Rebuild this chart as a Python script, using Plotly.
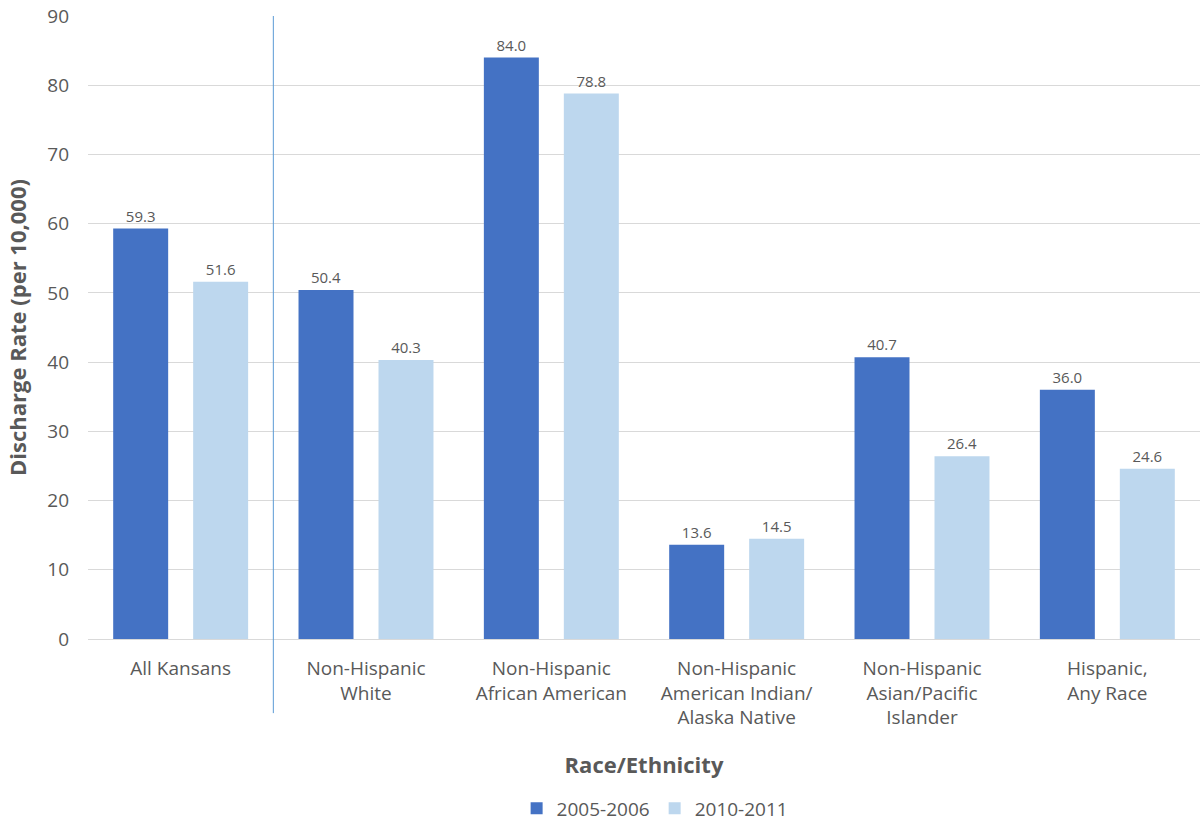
import plotly.graph_objects as go

categories = ["All Kansans", "Non-Hispanic<br>White", "Non-Hispanic<br>African American",
              "Non-Hispanic<br>American Indian/<br>Alaska Native",
              "Non-Hispanic<br>Asian/Pacific<br>Islander", "Hispanic,<br>Any Race"]
series_names = ["2005-2006", "2010-2011"]
values_2005 = [59.3, 50.4, 84.0, 13.6, 40.7, 36.0]
values_2010 = [51.6, 40.3, 78.8, 14.5, 26.4, 24.6]
colors = ["#4472C4", "#BDD7EE"]
y_ticks = [0, 10, 20, 30, 40, 50, 60, 70, 80, 90]

FONT = "Open Sans"
TXT = "#595959"

fig = go.Figure()
for name, vals, col in zip(series_names, [values_2005, values_2010], colors):
    fig.add_trace(go.Bar(
        x=categories, y=vals, name=name, marker_color=col, marker_line_width=0,
        text=[f"{v:.1f}" for v in vals], textposition="outside",
        textfont=dict(size=15, color=TXT, family=FONT), cliponaxis=False,
    ))

fig.add_shape(type="line", xref="x", yref="paper", x0=0.5, x1=0.5, y0=-0.119, y1=1.0,
              line=dict(color="#5B9BD5", width=1))

fig.update_layout(
    width=1203, height=823,
    margin=dict(l=88, r=3, t=16, b=184, autoexpand=False),
    paper_bgcolor="white", plot_bgcolor="white",
    barmode="group", bargap=0.137, bargroupgap=0.3125,
    font=dict(family=FONT, color=TXT, size=18),
    showlegend=True,
    legend=dict(orientation="h", x=0.51, xanchor="center", y=-0.272, yanchor="middle",
                font=dict(size=19, color=TXT), traceorder="normal"),
    xaxis=dict(title=dict(text="<b>Race/Ethnicity</b>", font=dict(size=22, color=TXT), standoff=28),
               tickfont=dict(size=19, color=TXT), showline=False, ticks="",
               ticklabelstandoff=16, automargin=False),
    yaxis=dict(title=dict(text="<b>Discharge Rate (per 10,000)</b>", font=dict(size=22, color=TXT), standoff=14),
               range=[0, 90], tickvals=y_ticks, tickfont=dict(size=19, color=TXT),
               gridcolor="#D9D9D9", gridwidth=1, zeroline=True, zerolinecolor="#D9D9D9",
               zerolinewidth=1, showline=False, ticklabelstandoff=18, automargin=False),
)

fig.write_html("out.html", config={"displayModeBar": False},
               post_script="document.body.style.margin='0';document.body.style.overflow='hidden';")
